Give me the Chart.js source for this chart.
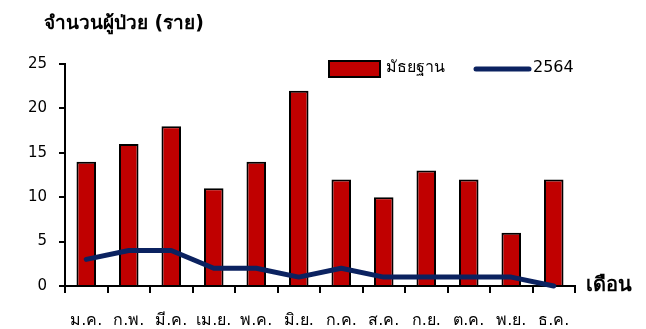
<!DOCTYPE html>
<html>
<head>
<meta charset="utf-8">
<script src="https://cdn.jsdelivr.net/npm/chart.js@4/dist/chart.umd.min.js"></script>
<style>
  html, body { margin: 0; padding: 0; background: #fff; }
  #wrap { width: 646px; height: 329px; }
</style>
</head>
<body>
<div id="wrap"><canvas id="c" width="646" height="329"></canvas></div>
<script>
const months = ['ม.ค.', 'ก.พ.', 'มี.ค.', 'เม.ย.', 'พ.ค.', 'มิ.ย.', 'ก.ค.', 'ส.ค.', 'ก.ย.', 'ต.ค.', 'พ.ย.', 'ธ.ค.'];
const median = [14, 16, 18, 11, 14, 22, 12, 10, 13, 12, 6, 12];
const cases2564 = [3, 4, 4, 2, 2, 1, 2, 1, 1, 1, 1, 0];
const yTicks = [0, 5, 10, 15, 20, 25];

const yTitle = 'จำนวนผู้ป่วย (ราย)';
const xTitle = 'เดือน';
const FONT = 'Tahoma, "DejaVu Sans", "Noto Sans", sans-serif';

// Draws the axis captions and the in-plot legend
const annotate = {
  id: 'annotate',
  afterDraw(chart) {
    const ctx = chart.ctx;
    const area = chart.chartArea;
    const ds = chart.data.datasets;
    ctx.save();
    ctx.fillStyle = '#000';
    ctx.textBaseline = 'middle';
    ctx.font = 'bold 19px ' + FONT;
    ctx.textAlign = 'left';
    ctx.fillText(yTitle, 44, 24);
    ctx.font = 'bold 20px ' + FONT;
    ctx.fillText(xTitle, area.right + 11, area.bottom);

    // legend: bar swatch
    ctx.font = '16px ' + FONT;
    const bar = ds[0];
    ctx.fillStyle = bar.backgroundColor;
    ctx.fillRect(329, 61, 51, 16);
    ctx.strokeStyle = bar.borderColor;
    ctx.lineWidth = 2;
    ctx.strokeRect(329, 61, 51, 16);
    ctx.fillStyle = '#000';
    ctx.fillText(bar.label, 386, 68);

    // legend: line sample
    const line = ds[1];
    ctx.strokeStyle = line.borderColor;
    ctx.lineWidth = 5;
    ctx.lineCap = 'round';
    ctx.beginPath();
    ctx.moveTo(476, 69);
    ctx.lineTo(529, 69);
    ctx.stroke();
    ctx.fillText(line.label, 533, 68);
    ctx.restore();
  }
};

new Chart(document.getElementById('c'), {
  data: {
    labels: months,
    datasets: [
      {
        type: 'bar',
        label: 'มัธยฐาน',
        data: median,
        backgroundColor: '#c00000',
        borderColor: '#000',
        borderWidth: 2,
        borderSkipped: 'bottom',
        categoryPercentage: 1,
        barPercentage: 0.46,
        order: 1
      },
      {
        type: 'line',
        label: '2564',
        data: cases2564,
        borderColor: '#0b2260',
        borderWidth: 5,
        borderCapStyle: 'round',
        borderJoinStyle: 'round',
        pointRadius: 0,
        tension: 0,
        clip: false,
        order: 0
      }
    ]
  },
  options: {
    responsive: false,
    animation: false,
    layout: { padding: { left: 0, right: 71, top: 64, bottom: 0 } },
    plugins: { legend: { display: false }, tooltip: { enabled: false }, title: { display: false } },
    scales: {
      x: {
        offset: true,
        grid: { offset: true, drawOnChartArea: false, drawTicks: true, tickLength: 7, color: '#000', lineWidth: 2 },
        border: { color: '#000', width: 2 },
        ticks: { color: '#000', font: { size: 16, family: FONT }, padding: 18, maxRotation: 0, autoSkip: false },
        afterFit(s) { s.height = 43; }
      },
      y: {
        min: 0, max: 25,
        afterBuildTicks(s) { s.ticks = yTicks.map(v => ({ value: v })); },
        grid: { drawOnChartArea: false, drawTicks: true, tickLength: 6, color: '#000', lineWidth: 2 },
        border: { color: '#000', width: 2 },
        ticks: { color: '#000', font: { size: 15, family: FONT }, padding: 12 },
        afterFit(s) { s.width = 65; }
      }
    }
  },
  plugins: [annotate]
});
</script>
</body>
</html>
